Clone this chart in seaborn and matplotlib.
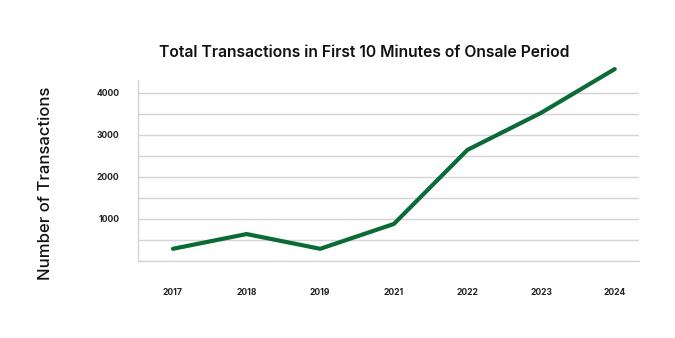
import matplotlib
matplotlib.use("Agg")
import matplotlib.pyplot as plt
import seaborn as sns
import pandas as pd

years = ["2017", "2018", "2019", "2021", "2022", "2023", "2024"]
transactions = [290, 640, 290, 880, 2640, 3520, 4560]
y_ticks = [0, 500, 1000, 1500, 2000, 2500, 3000, 3500, 4000]
y_tick_labels = ["", "", "1000", "", "2000", "", "3000", "", "4000"]

df = pd.DataFrame({"Year": years, "Transactions": transactions})

sns.set_theme(style="white")
plt.rcParams["font.family"] = ["Inter", "DejaVu Sans"]

fig = plt.figure(figsize=(6.75, 3.38), dpi=100)
ax = fig.add_axes([0.2044, 0.2278, 0.7423, 0.5355])

sns.lineplot(data=df, x="Year", y="Transactions", ax=ax, color="#0b6b35",
             linewidth=3.0, sort=False, clip_on=False, zorder=3)

ax.set_xlim(-0.475, 6.33)
ax.set_ylim(0, 4300)
ax.set_yticks(y_ticks)
ax.set_yticklabels(y_tick_labels)
ax.yaxis.grid(True, color="#d4d4d4", linewidth=1.0)
ax.xaxis.grid(False)
for s in ["top", "right"]:
    ax.spines[s].set_visible(False)
for s in ["left", "bottom"]:
    ax.spines[s].set_color("#d4d4d4")
    ax.spines[s].set_linewidth(1.0)

ax.tick_params(axis="y", length=0, pad=13.5, labelsize=6.2)
ax.tick_params(axis="x", length=0, pad=19.5, labelsize=6.2)
for lab in ax.get_xticklabels() + ax.get_yticklabels():
    lab.set_fontweight("bold")
    lab.set_color("#222222")

ax.set_xlabel("")
ax.set_ylabel("")
fig.text(0.0667, 0.457, "Number of Transactions", rotation=90, ha="center",
         va="center", fontsize=12, fontweight="medium", color="#111111")
fig.text(0.54, 0.845, "Total Transactions in First 10 Minutes of Onsale Period",
         ha="center", va="center", fontsize=11.3, fontweight="semibold", color="#111111")

fig.savefig("out.png", dpi=100)
